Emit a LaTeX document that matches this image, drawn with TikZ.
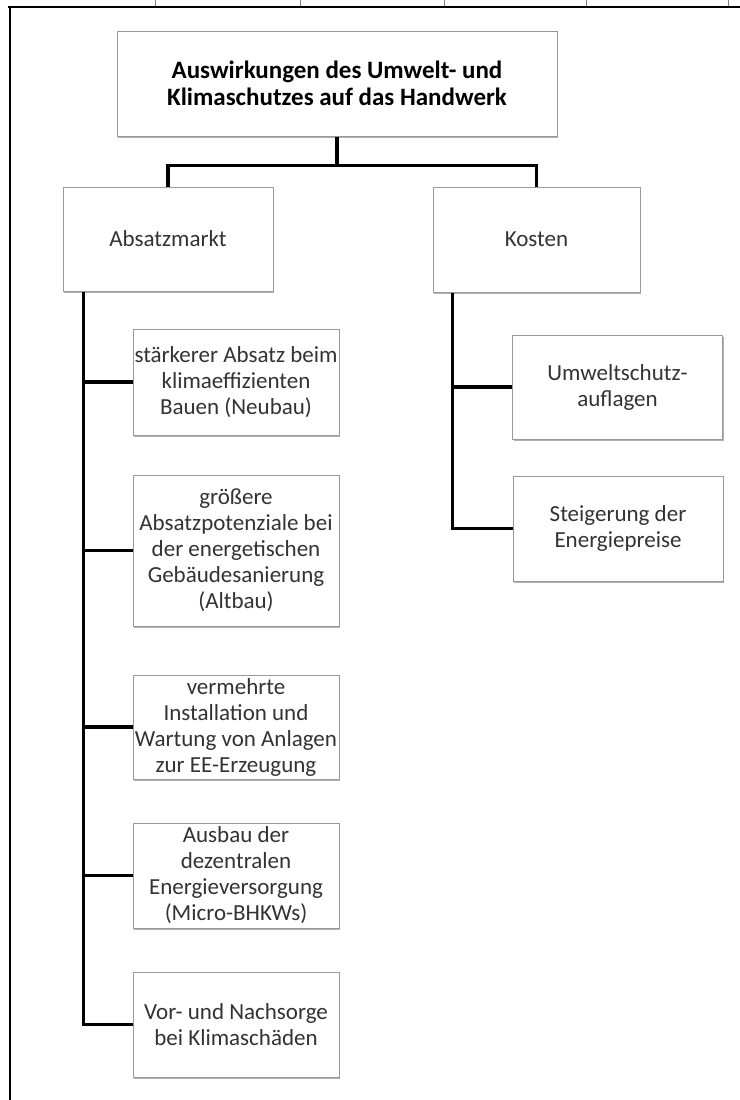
\documentclass[tikz,border=0pt]{standalone}
\usepackage{fontspec}
\setmainfont{Carlito}
\usetikzlibrary{shadows}
\definecolor{rahmen}{gray}{0.6}
\definecolor{schrift}{gray}{0.2}
\tikzset{
  kasten/.style={draw=rahmen, line width=0.5pt, fill=white, text=schrift,
    align=center, inner sep=0pt,
    drop shadow={shadow xshift=0.7pt, shadow yshift=-1.2pt, fill=black, opacity=0.3},
    font=\fontsize{11.5}{13}\selectfont},
  verb/.style={line width=1.6pt, black}
}

\begin{document}
\begin{tikzpicture}[x=0.5pt,y=-0.5pt]
  \useasboundingbox (0,0) rectangle (740,1100);
  \def\lw{1pt}%frame line
  \def\bw{103pt}%width of the left boxes
  \def\kw{105pt}%width of the right boxes
  \draw[line width=\lw] (8,7) -- (740,7);
  \draw[line width=\lw] (10,6.5) -- (10,1100);
  \foreach \x in {155,300,444,586,728}{
  \draw[gray,line width=0.3pt] (\x,0) -- (\x,6);}
  % top and second level
  \node[kasten, minimum width=220pt, minimum height=52.5pt, text=black,
        font=\fontsize{12.5}{13.5}\selectfont\bfseries] (titel) at (337,83.5)
        {Auswirkungen des Umwelt- und\\Klimaschutzes auf das Handwerk};
  \node[kasten, minimum width=105pt, minimum height=52pt] (absatz) at (168,239) {Absatzmarkt};
  \node[kasten, minimum width=103.5pt, minimum height=52.5pt] (kosten) at (536.5,239.5) {Kosten};
  % Absatzmarkt
  \node[kasten, minimum width=\bw, minimum height=53pt] (m1) at (236,382)
        {stärkerer Absatz beim\\klimaeffizienten\\Bauen (Neubau)};
  \node[kasten, minimum width=\bw, minimum height=75.5pt] (m2) at (236,550.5)
        {größere\\Absatzpotenziale bei\\der energetischen\\Gebäudesanierung\\(Altbau)};
  \node[kasten, minimum width=\bw, minimum height=52pt] (m3) at (236,727)
        {vermehrte\\Installation und\\Wartung von Anlagen\\zur EE-Erzeugung};
  \node[kasten, minimum width=\bw, minimum height=52.5pt] (m4) at (236,875.5)
        {Ausbau der\\dezentralen\\Energieversorgung\\(Micro-BHKWs)};
  \node[kasten, minimum width=\bw, minimum height=52.5pt] (m5) at (236,1024.5)
        {Vor- und Nachsorge\\bei Klimaschäden};
  % Kosten
  \node[kasten, minimum width=\kw, minimum height=52pt] (k1) at (617.5,387)
        {Umweltschutz-\\auflagen};
  \node[kasten, minimum width=\kw, minimum height=52.5pt] (k2) at (618,528.5)
        {Steigerung der\\Energiepreise};
  % connectors
  \draw[verb] (titel.south) -- ++(0,29) coordinate (gabel);
  \draw[verb] (absatz.north) |- (gabel) -| (kosten.north);
  \coordinate (stammA) at ([xshift=10.5pt]absatz.south west);
  \foreach \n in {m1,m2,m3,m4,m5}
  \draw[verb] (stammA) |- (\n.west);
  \coordinate (stammK) at ([xshift=10pt]kosten.south west);
  \foreach \n in {k1,k2}
  \draw[verb] (stammK) |- (\n.west);
\end{tikzpicture}
\end{document}
